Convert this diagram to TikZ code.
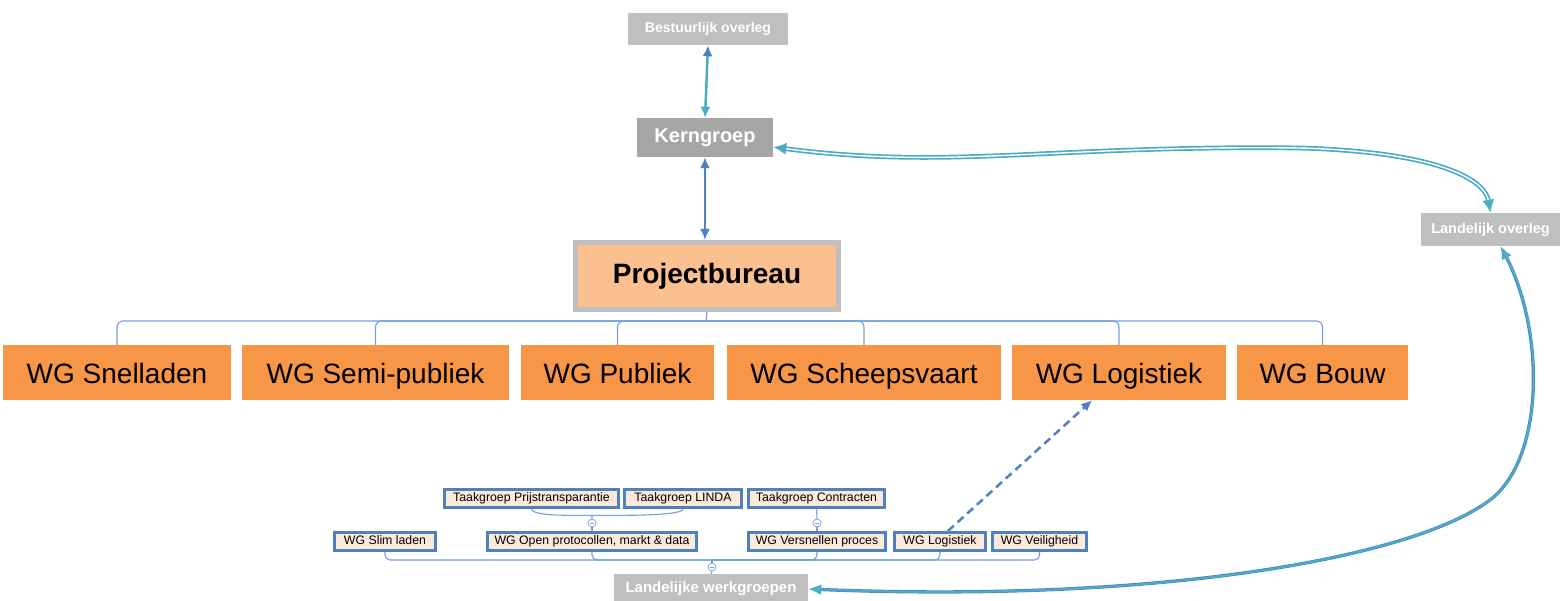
\documentclass[tikz,border=0pt]{standalone}
\usepackage{fontspec}
\setmainfont{Liberation Sans}
\usetikzlibrary{arrows.meta,calc,backgrounds}
\definecolor{gl}{HTML}{BFBFBF}
\definecolor{gd}{HTML}{A6A6A6}
\definecolor{org}{HTML}{F79646}
\definecolor{pbf}{HTML}{FAC090}
\definecolor{bl}{HTML}{4F81BD}
\definecolor{tl}{HTML}{4BACC6}
\definecolor{pch}{HTML}{FDE9D9}
\definecolor{ln}{HTML}{6F9FDC}
\begin{document}
\begin{tikzpicture}[x=1pt,y=-1pt,
  graybox/.style={fill=gl, text=white, inner sep=0, draw=none},
  wgbox/.style={fill=org, inner sep=0, minimum height=55, text height=27, text depth=6, font=\fontsize{28}{32}\selectfont},
  smbox/.style={draw=bl, line width=3, fill=pch, inner sep=0, minimum height=18, text height=9.5, text depth=3.3, font=\fontsize{12.3}{14}\selectfont},
  tree/.style={draw=ln, line width=1.1},
  collapse/.style={circle, draw=ln, fill=white, minimum size=8, inner sep=0, line width=0.7,
    path picture={\draw[ln,line width=0.7] ([xshift=-2.2pt]path picture bounding box.center) -- ([xshift=2.2pt]path picture bounding box.center);}}
]
\useasboundingbox (0,0) rectangle (1560,601);
\clip (0,0) rectangle (1560,601);

% top nodes
\node[graybox, minimum width=160, minimum height=32, font=\bfseries\fontsize{14}{16}\selectfont] (best) at (708,29) {Bestuurlijk overleg};
\node[graybox, fill=gd, minimum width=136, minimum height=39, font=\bfseries\fontsize{20}{24}\selectfont] (kern) at (705,137.5) {Kerngroep};
\node[draw=gl, line width=5, fill=pbf, minimum width=263, minimum height=67, inner sep=0, font=\bfseries\fontsize{28}{32}\selectfont] (pb) at (707,276) {Projectbureau};
\node[graybox, minimum width=139, minimum height=33, font=\bfseries\fontsize{14.5}{16}\selectfont] (lo) at (1490.5,229.5) {Landelijk overleg};
\node[graybox, minimum width=194, minimum height=30, font=\bfseries\fontsize{15}{17}\selectfont] (lw) at (711,589) {Landelijke werkgroepen};

% WG boxes
\node[wgbox, minimum width=228] (wg1) at (117,372.5) {WG Snelladen};
\node[wgbox, minimum width=267] (wg2) at (375.5,372.5) {WG Semi-publiek};
\node[wgbox, minimum width=193] (wg3) at (617.5,372.5) {WG Publiek};
\node[wgbox, minimum width=274] (wg4) at (864,372.5) {WG Scheepsvaart};
\node[wgbox, minimum width=214] (wg5) at (1119,372.5) {WG Logistiek};
\node[wgbox, minimum width=171] (wg6) at (1322.5,372.5) {WG Bouw};

% small boxes
\node[smbox, minimum width=174] (tp) at (531.5,498.5) {Taakgroep Prijstransparantie};
\node[smbox, minimum width=117] (tg) at (683,498.5) {Taakgroep LINDA};
\node[smbox, minimum width=136] (tc) at (816.5,498.5) {Taakgroep Contracten};
\node[smbox, minimum width=101] (sl) at (385,541.5) {WG Slim laden};
\node[smbox, minimum width=209] (op) at (592,541.5) {WG Open protocollen, markt \& data};
\node[smbox, minimum width=137] (vp) at (817,541.5) {WG Versnellen proces};
\node[smbox, minimum width=91] (lg) at (940,541.5) {WG Logistiek};
\node[smbox, minimum width=94] (vh) at (1039.5,541.5) {WG Veiligheid};

% collapse circles
\node[collapse] (c1) at (592,523) {};
\node[collapse] (c2) at (817,523) {};
\node[collapse] (c3) at (712,567) {};

\coordinate (pj) at (706,321);
\coordinate (bj) at (712,560);

\begin{pgfonlayer}{background}
  \draw[tree] (pb.south) -- (pj);
  \foreach \c in {wg1,wg2,wg3,wg4,wg5,wg6} {\draw[tree, rounded corners=6] (pj) -| (\c.north);}
  \foreach \c in {sl,op,vp,lg,vh} {\draw[tree, rounded corners=5] (bj) -| (\c.south);}
  \draw[tree] (bj) -- (c3.north);
  \draw[tree] (c3.south) -- (lw.north);
  \draw[tree] (c1.south) -- (op.north);
  \draw[tree] (tp.south) .. controls (532,517) and (580,515) .. (592,515.5) -- (c1.north);
  \draw[tree] (tg.south) .. controls (682,517) and (604,515) .. (592,515.5);
  \draw[tree] (tc.south) -- (c2.north);
  \draw[tree] (c2.south) -- (vp.north);
\end{pgfonlayer}

% arrows
\draw[tl, line width=2.5, {Latex[length=11,width=10,color=bl]}-{Latex[length=11,width=10]}] (best.south) -- (kern.north);
\draw[bl, line width=2.5, {Latex[length=11,width=10]}-{Latex[length=11,width=10]}] (kern.south) -- (kern.south |- pb.north);

\draw[tl, line width=1.7, double=white, double distance=1.4, {Latex[length=13,width=12]}-{Latex[length=13,width=12]}]
  (kern.-8) .. controls (950,170) and (1050,145) .. (1300,148) .. controls (1440,152) and (1485,180) .. (lo.north);

\draw[bl, line width=3.3, shorten <=10pt, shorten >=10pt]
  (lw.east) .. controls (1150,603) and (1410,560) .. (1490,500) .. controls (1545,458) and (1545,330) .. (lo.-59);
\draw[tl, line width=2, {Latex[length=13,width=11]}-{Latex[length=13,width=11]}]
  (lw.east) .. controls (1150,603) and (1410,560) .. (1490,500) .. controls (1545,458) and (1545,330) .. (lo.-59);

\draw[bl, line width=2.5, dash pattern=on 8pt off 5pt, -{Latex[length=11,width=10]}] (lg.53) -- (wg5.226);
\end{tikzpicture}
\end{document}
